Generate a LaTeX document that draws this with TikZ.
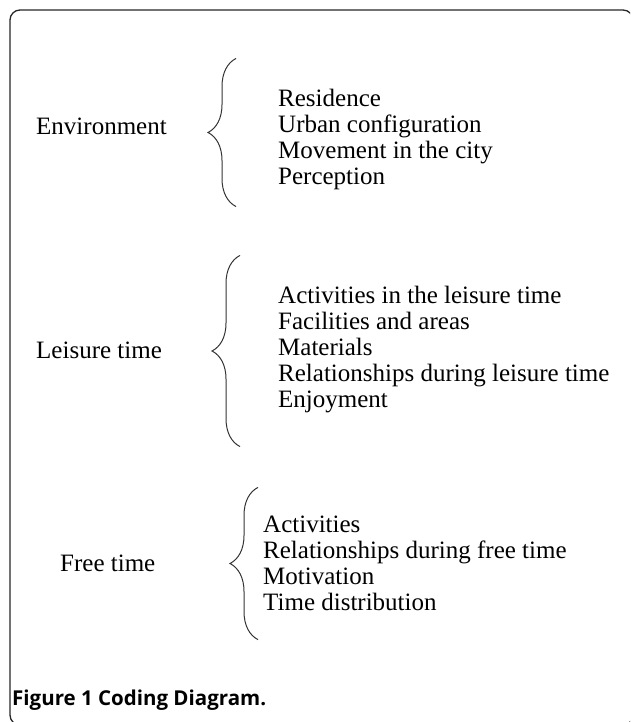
\documentclass[tikz,border=0pt]{standalone}
\usepackage{fontspec}
\setmainfont{Liberation Serif}
\newfontfamily\capfont{Open Sans}
\usetikzlibrary{positioning, decorations.pathreplacing}
\tikzset{
  %% ---- text ----
  topic/.style  = {anchor=west, inner sep=0pt,
                   font=\fontsize{25}{26}\selectfont},
  items/.style  = {anchor=west, inner sep=0pt, align=left,
                   font=\fontsize{25}{26}\selectfont},
  caption/.style = {anchor=west, inner sep=0pt,
                   font=\capfont\bfseries\fontsize{20.5}{22}\selectfont},
  %% ---- lines ----
  frame/.style  = {draw=black!85, line width=1.3pt, rounded corners=10pt},
  curly/.style  = {draw=black!80, line width=1pt, decorate,
                   decoration={brace, amplitude=28pt}},
}
\begin{document}
\begin{tikzpicture}[x=1pt, y=-1pt]
  \useasboundingbox (0,0) rectangle (630,722);
  \clip (0,0) rectangle (630,722);

  \draw[frame] (10,10) rectangle (633,725);

  %% Environment
  \node[topic] (env) at (36,126) {Environment};
  \node[items] (envlist) at (278,139)
    {Residence\\Urban configuration\\Movement in the city\\Perception};
  \draw[curly] ([xshift=-42pt, yshift=-17pt]envlist.south west)
            -- ([xshift=-42pt, yshift=30pt]envlist.north west);

  %% Leisure time
  \node[topic] (leis) at (36,350) {Leisure time};
  \node[items] (leislist) at (278,350)
    {Activities in the leisure time\\Facilities and areas\\Materials\\
     Relationships during leisure time\\Enjoyment};
  \draw[curly] ([xshift=-38pt, yshift=-33pt]leislist.south west)
            -- ([xshift=-38pt, yshift=31pt]leislist.north west);

  %% Free time
  \node[topic] (free) at (60,563) {Free time};
  \node[items] (freelist) at (263,563)
    {Activities\\Relationships during free time\\Motivation\\Time distribution};
  \draw[curly] ([xshift=-5pt, yshift=-29pt]freelist.south west)
            -- ([xshift=-5pt, yshift=28pt]freelist.north west);

  \node[caption] (cap) at (12,700) {Figure 1 Coding Diagram.};
\end{tikzpicture}
\end{document}
